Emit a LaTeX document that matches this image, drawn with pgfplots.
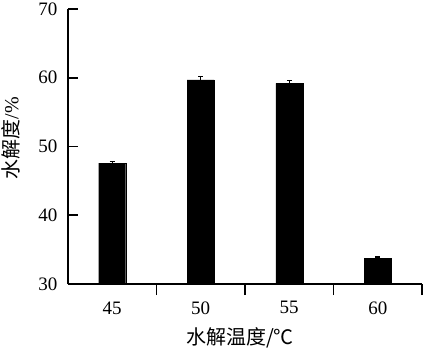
\documentclass[border=0pt]{standalone}
\usepackage{fontspec}
\setmainfont{Liberation Serif}
\newfontfamily\cjk{Noto Sans CJK SC}
\usepackage{pgfplots}
\pgfplotsset{compat=1.18}
\begin{document}
\begin{tikzpicture}
\useasboundingbox (-68pt,-65pt) rectangle (355pt,284pt);
\begin{axis}[
  at={(0pt,0pt)}, anchor=south west,
  width=354pt, height=275pt, scale only axis,
  xmin=-0.5, xmax=3.5, ymin=30, ymax=70,
  ytick={30,40,50,60,70},
  xtick={0,1,2,3}, xticklabels={45,50,55,60},
  minor xtick={0.5,1.5,2.5,3.5},
  axis x line*=bottom, axis y line*=left,
  tick align=inside,
  major tick length=10pt, minor tick length=11pt,
  major x tick style={draw=none},
  axis line style={line width=1.6pt},
  every tick/.append style={line width=1.6pt, black},
  /pgf/number format/assume math mode=true,
  tick label style={font=\fontsize{19}{21}\selectfont},
  yticklabel style={xshift=-7pt},
  xticklabel style={yshift=-4pt},
  ylabel={{\cjk 水解度}/\%},
  xlabel={{\cjk 水解温度/℃}},
  label style={font=\fontsize{20}{22}\selectfont},
  y label style={at={(axis description cs:-0.162,0.53)}, anchor=center},
  x label style={at={(axis description cs:0.486,0)}, yshift=-54pt, anchor=center},
  ybar, bar width=27pt,
  clip=true,
]
\addplot[fill=black, draw=black,
  error bars/.cd, y dir=plus, y explicit,
  error bar style={line width=1pt, black},
  error mark options={rotate=90, mark size=2.5pt, line width=1.5pt, black}]
  coordinates {(0,47.6) +- (0,0.25) (1,59.7) +- (0,0.5) (2,59.2) +- (0,0.4) (3,33.7) +- (0,0.2)};
\end{axis}
\end{tikzpicture}
\end{document}
